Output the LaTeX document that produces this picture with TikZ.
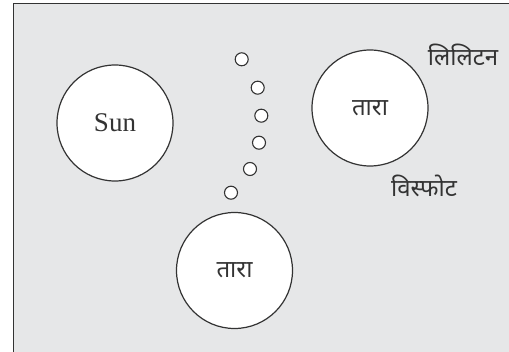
\documentclass[tikz,border=0pt]{standalone}
\usepackage{fontspec}
\setmainfont{Liberation Serif}
\newfontfamily\devfont[Script=Devanagari]{Noto Sans}
\definecolor{panelgray}{HTML}{E6E7E8}
\definecolor{inkgray}{HTML}{333333}

\begin{document}
\begin{tikzpicture}[
        x=1pt, y=-1pt,
        body/.style={circle, draw=inkgray, line width=1.2pt, fill=white, minimum size=116pt, inner sep=0pt},
        blob/.style={circle, draw=inkgray, line width=1.1pt, fill=white, minimum size=13pt, inner sep=0pt},
        tag/.style={font=\devfont\fontsize{24}{24}\selectfont, text=inkgray}
    ]
        \useasboundingbox (0,0) rectangle (509,352);
        \clip (0,0) rectangle (509,352);
        \draw[draw=inkgray, line width=1pt, fill=panelgray] (13,4) rectangle (520,360);

        % the three bodies
        \node[body, font=\fontsize{27}{27}\selectfont, text=inkgray] (sun) at (115,123) {Sun};
        \node[body, tag] (star1) at (370,108) {तारा};
        \node[body, tag] (star2) at (234.5,270.5) {तारा};

        % fragments between them
        \foreach \i/\x/\y in {1/241.7/59.3, 2/257.7/87.7, 3/261.3/115.7, 4/259/142.7, 5/250/169, 6/231/192.7}
            \node[blob] (b\i) at (\x,\y) {};

        \node[tag] (lbl1) at (463,55) {लिलिटन};
        \node[tag] (lbl2) at (424,186) {विस्फोट};
    \end{tikzpicture}
\end{document}
